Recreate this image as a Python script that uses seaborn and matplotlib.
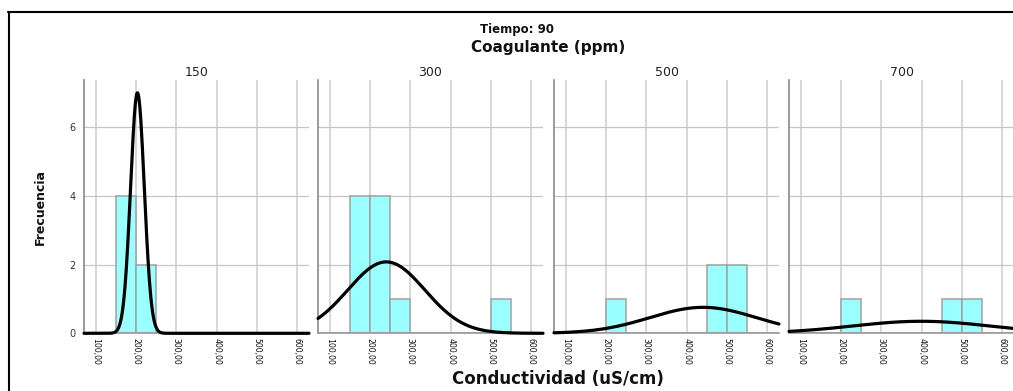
import numpy as np
import pandas as pd
import matplotlib
matplotlib.use("Agg")
import matplotlib.pyplot as plt
from matplotlib.lines import Line2D
from matplotlib import font_manager
import seaborn as sns

# Dosis de coagulante (ppm) de cada panel
coagulante = ["150", "300", "500", "700"]

# Histograma de conductividad: límite inferior de cada clase (ancho 50) y su frecuencia
clases_150 = [150, 200]
frec_150 = [4, 2]
clases_300 = [150, 200, 250, 500]
frec_300 = [4, 4, 1, 1]
clases_500 = [200, 450, 500]
frec_500 = [1, 2, 2]
clases_700 = [200, 450, 500]
frec_700 = [1, 1, 1]

# Curva normal ajustada de cada panel: media y desviación típica
media = [203.0, 240.0, 441.0, 399.0]
desv = [17.1, 96.0, 132.0, 171.0]

ancho_clase = 50
ticks_x = [100, 200, 300, 400, 500, 600]
ticks_y = [0, 2, 4, 6]

titulo_sup = "Tiempo: 90"
titulo_panel = "Coagulante (ppm)"
etiqueta_x = "Conductividad (uS/cm)"
etiqueta_y = "Frecuencia"

# Tabla larga: una fila por clase, con el centro de la clase y su frecuencia
filas = []
for ppm, clases, frec in zip(coagulante,
                             [clases_150, clases_300, clases_500, clases_700],
                             [frec_150, frec_300, frec_500, frec_700]):
    for c, f in zip(clases, frec):
        filas.append({"coagulante": ppm,
                      "conductividad": c + ancho_clase / 2,
                      "frecuencia": f})
df = pd.DataFrame(filas)

sns.set_theme(style="white")
plt.rcParams["font.family"] = ["DejaVu Sans"]

# Fuente estrecha para la etiqueta vertical, si está disponible
disponibles = {f.name for f in font_manager.fontManager.ttflist}
fuente_estrecha = next((n for n in ("Liberation Sans Narrow", "DejaVu Sans Condensed")
                        if n in disponibles), None)

W, H = 1013, 391
fig = plt.figure(figsize=(W / 100, H / 100), dpi=100)
fig.patch.set_facecolor("white")


def fx(x):
    return x / W


def fy(y):
    return 1 - y / H


panel_izq = [84, 318, 554, 789]
panel_ancho = 225
y_sup, y_inf = 80, 333.3
xmin, xmax = 70, 630

for i, (ppm, izq) in enumerate(zip(coagulante, panel_izq)):
    ax = fig.add_axes([fx(izq), fy(y_inf), panel_ancho / W, (y_inf - y_sup) / H])
    sub = df[df["coagulante"] == ppm]

    sns.histplot(data=sub, x="conductividad", weights="frecuencia",
                 binwidth=ancho_clase, binrange=(0, 700),
                 stat="count", color="#99ffff", edgecolor="#a0a0a0",
                 linewidth=1.1, alpha=1.0, ax=ax, zorder=2)

    n = sub["frecuencia"].sum()
    xs = np.linspace(xmin, xmax, 500)
    ys = (n * ancho_clase / (desv[i] * np.sqrt(2 * np.pi))
          * np.exp(-0.5 * ((xs - media[i]) / desv[i]) ** 2))
    sns.lineplot(x=xs, y=ys, color="black", linewidth=2.3, ax=ax, zorder=3)
    ax.lines[-1].set_clip_on(False)

    ax.set_xlim(xmin, xmax)
    ax.set_ylim(0, 7.37)
    ax.set_xlabel("")
    ax.set_ylabel("")

    ax.set_axisbelow(True)
    ax.set_xticks(ticks_x)
    ax.set_xticklabels([f"{v:.2f}".replace(".", ",") for v in ticks_x])
    ax.set_yticks(ticks_y)
    ax.grid(axis="x", color="#d4d4d4", linewidth=1.3)
    ax.grid(axis="y", color="#c6c6c6", linewidth=0.9)

    ax.tick_params(axis="x", length=0, pad=3.6, labelsize=5.6,
                   labelrotation=-90, labelcolor="#111111")
    ax.tick_params(axis="y", length=0, pad=6, labelsize=7,
                   labelcolor="#333333")
    if i > 0:
        ax.tick_params(axis="y", labelleft=False)

    for lado in ("top", "right"):
        ax.spines[lado].set_visible(False)
    ax.spines["left"].set_color("#8a8a8a")
    ax.spines["left"].set_linewidth(1.2)
    ax.spines["bottom"].set_color("#9a9a9a")
    ax.spines["bottom"].set_linewidth(1.2)

    fig.text(fx(izq + panel_ancho / 2), fy(72), ppm, ha="center", va="center",
             fontsize=9, color="#222222")

# Textos generales
fig.text(fx(516.5), fy(29), titulo_sup, ha="center", va="center",
         fontsize=8.5, fontweight="bold", color="#111111")
fig.text(fx(548), fy(47.5), titulo_panel, ha="center", va="center",
         fontsize=11, fontweight="bold", color="#111111")
fig.text(fx(558), fy(379), etiqueta_x, ha="center", va="center",
         fontsize=12, fontweight="bold", color="#111111")
if fuente_estrecha:
    fig.text(fx(40), fy(207), etiqueta_y, ha="center", va="center", rotation=90,
             fontsize=11, fontweight="bold", color="#111111",
             family=[fuente_estrecha, "DejaVu Sans"])
else:
    fig.text(fx(40), fy(207), etiqueta_y, ha="center", va="center", rotation=90,
             fontsize=9, fontweight="bold", color="#111111")

# Marco exterior
fig.add_artist(Line2D([fx(8), fx(W + 5)], [fy(12), fy(12)], color="black",
                      linewidth=1.5, transform=fig.transFigure))
fig.add_artist(Line2D([fx(9), fx(9)], [fy(12), fy(H + 5)], color="black",
                      linewidth=1.5, transform=fig.transFigure))

fig.savefig("out.png", dpi=100, facecolor="white")
